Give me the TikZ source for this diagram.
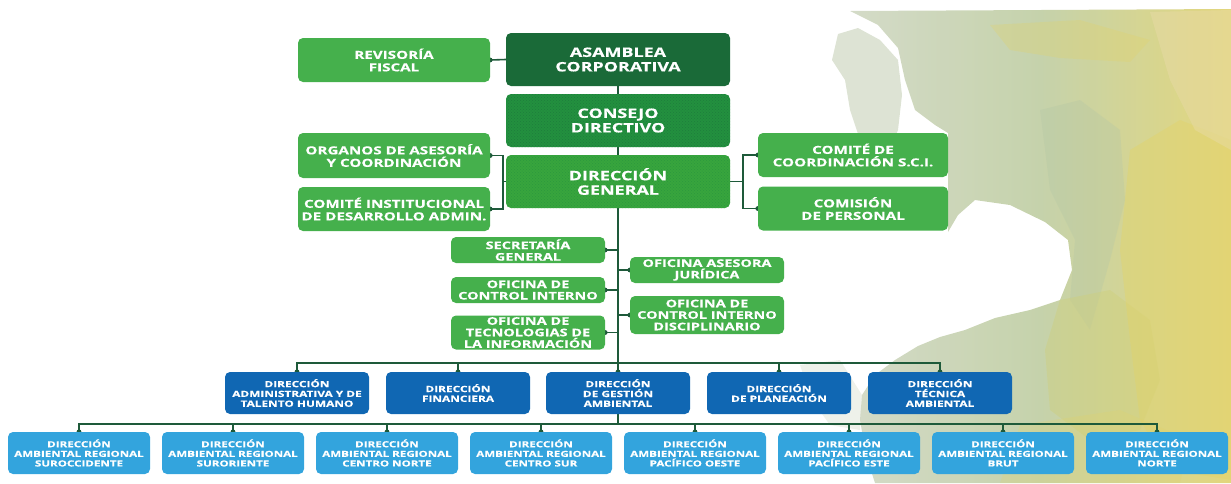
\documentclass[tikz,border=0pt]{standalone}
\usepackage{fontspec}
\newfontfamily\orgfont{Open Sans}[FakeStretch=1.38,FakeBold=0.4]
\usetikzlibrary{patterns,backgrounds}
\pgfdeclarelayer{texture}
\pgfsetlayers{texture,background,main}
\definecolor{dkgreen}{HTML}{1A6A38}
\definecolor{midgreen}{HTML}{23903F}
\definecolor{dggreen}{HTML}{38A53D}
\definecolor{ltgreen}{HTML}{45B04C}
\definecolor{blueA}{HTML}{1067B3}
\definecolor{blueB}{HTML}{33A4DD}
\definecolor{linec}{HTML}{1E5A3A}
\definecolor{txA}{HTML}{CFD7C2}
\definecolor{txB}{HTML}{BFCDA2}
\definecolor{txC}{HTML}{E0D26E}
\definecolor{txG}{HTML}{B5C8A5}
\definecolor{txL}{HTML}{CFCF78}
\definecolor{txY}{HTML}{E2D46A}
\definecolor{txT}{HTML}{E8DBA8}
\tikzset{
  box/.style={rectangle, rounded corners=5pt, align=center, text=white, inner sep=0pt},
  topbox/.style={box, minimum width=224pt, minimum height=53pt,
     font=\orgfont\bfseries\fontsize{13}{14.5}\selectfont},
  sidebox/.style={box, fill=ltgreen, minimum width=192pt, minimum height=44pt,
     font=\orgfont\bfseries\fontsize{11}{12.5}\selectfont},
  offbox/.style={box, fill=ltgreen, minimum width=154pt,
     font=\orgfont\bfseries\fontsize{10.5}{11.5}\selectfont},
  dirbox/.style={box, fill=blueA, minimum width=144pt, minimum height=42pt,
     font=\orgfont\bfseries\fontsize{8.6}{9.8}\selectfont},
  regbox/.style={box, fill=blueB, minimum width=142pt, minimum height=42pt,
     font=\orgfont\bfseries\fontsize{8.4}{9.6}\selectfont},
  conn/.style={draw=linec, line width=1.6pt},
  tab/.style={fill=linec},
}
\begin{document}
\begin{tikzpicture}[x=1pt,y=-1pt]
\useasboundingbox (0,0) rectangle (1231,483);
% ---------- top ----------
\node[topbox, fill=dkgreen] (asamblea) at (618,59.5) {ASAMBLEA\\CORPORATIVA};
\node[topbox, fill=midgreen, postaction={pattern=crosshatch dots, pattern color=dkgreen!50!midgreen}] (consejo) at (618,120.5) {};
\node[topbox, fill=dggreen, postaction={pattern=crosshatch dots, pattern color=midgreen!60!dggreen}] (general) at (618,181.5) {};
\node[topbox] at (consejo) {CONSEJO\\DIRECTIVO};
\node[topbox] at (general) {DIRECCIÓN\\GENERAL};
% ---------- side boxes ----------
\node[sidebox] (revisoria) at (394,60) {REVISORÍA\\FISCAL};
\node[sidebox, minimum height=45pt] (organos) at (394,155.5) {ORGANOS DE ASESORÍA\\Y COORDINACIÓN};
\node[sidebox] (cidesa) at (394,209) {COMITÉ INSTITUCIONAL\\DE DESARROLLO ADMIN.};
\node[sidebox, minimum width=190pt] (sci) at (853,155) {COMITÉ DE\\COORDINACIÓN S.C.I.};
\node[sidebox, minimum width=190pt] (comision) at (853,208.5) {COMISIÓN\\DE PERSONAL};
% ---------- offices ----------
\node[offbox, minimum height=26pt] (sec) at (528,250) {SECRETARÍA\\GENERAL};
\node[offbox, minimum height=26pt] (oci) at (528,290) {OFICINA DE\\CONTROL INTERNO};
\node[offbox, minimum height=34pt] (otic) at (528,332.5) {OFICINA DE\\TECNOLOGIAS DE\\LA INFORMACIÓN};
\node[offbox, minimum height=26pt] (oaj) at (707,270) {OFICINA ASESORA\\JURÍDICA};
\node[offbox, minimum height=38pt] (ocid) at (707,315) {OFICINA DE\\CONTROL INTERNO\\DISCIPLINARIO};
% ---------- direcciones ----------
\node[dirbox] (adm) at (297,393) {DIRECCIÓN\\ADMINISTRATIVA Y DE\\TALENTO HUMANO};
\node[dirbox] (fin) at (458,393) {DIRECCIÓN\\FINANCIERA};
\node[dirbox] (gest) at (618,393) {DIRECCIÓN\\DE GESTIÓN\\AMBIENTAL};
\node[dirbox] (plan) at (779,393) {DIRECCIÓN\\DE PLANEACIÓN};
\node[dirbox] (tec) at (940,393) {DIRECCIÓN\\TÉCNICA\\AMBIENTAL};
% ---------- regionales ----------
\node[regbox] (r1) at (79,453) {DIRECCIÓN\\AMBIENTAL REGIONAL\\SUROCCIDENTE};
\node[regbox] (r2) at (233,453) {DIRECCIÓN\\AMBIENTAL REGIONAL\\SURORIENTE};
\node[regbox] (r3) at (387,453) {DIRECCIÓN\\AMBIENTAL REGIONAL\\CENTRO NORTE};
\node[regbox] (r4) at (541,453) {DIRECCIÓN\\AMBIENTAL REGIONAL\\CENTRO SUR};
\node[regbox] (r5) at (695,453) {DIRECCIÓN\\AMBIENTAL REGIONAL\\PACÍFICO OESTE};
\node[regbox] (r6) at (849,453) {DIRECCIÓN\\AMBIENTAL REGIONAL\\PACÍFICO ESTE};
\node[regbox] (r7) at (1003,453) {DIRECCIÓN\\AMBIENTAL REGIONAL\\BRUT};
\node[regbox] (r8) at (1157,453) {DIRECCIÓN\\AMBIENTAL REGIONAL\\NORTE};
% ---------- helper coordinates ----------
\coordinate (lbr) at (503,0);
\coordinate (rbr) at (743,0);
\coordinate (trk) at (618,0);
\coordinate (busA) at (0,363);
\coordinate (busB) at (0,424);
% ---------- connectors ----------
\begin{pgfonlayer}{background}
\draw[conn] (asamblea.south) -- (consejo.north);
\draw[conn] (consejo.south) -- (general.north);
\draw[conn] (general.south) -- (gest.north);
\draw[conn] (revisoria.east) -- (asamblea.west);
\fill[tab] (revisoria.east) circle (2.4);
\draw[conn] (organos.east) -- (organos.east -| lbr) -- (cidesa.east -| lbr) -- (cidesa.east);
\draw[conn] (general.west) -- (general.west -| lbr);
\fill[tab] (organos.east) circle (2.4);
\fill[tab] (cidesa.east) circle (2.4);
\draw[conn] (sci.west) -- (sci.west -| rbr) -- (comision.west -| rbr) -- (comision.west);
\draw[conn] (general.east) -- (general.east -| rbr);
\fill[tab] (sci.west) circle (2.4);
\fill[tab] (comision.west) circle (2.4);
\foreach \o in {sec,oci,otic}{
  \draw[conn] (\o.east) -- (\o.east -| trk);
  \fill[tab] (\o.east) circle (2.4);
}
\foreach \o in {oaj,ocid}{
  \draw[conn] (\o.west) -- (\o.west -| trk);
  \fill[tab] (\o.west) circle (2.4);
}
\draw[conn] (adm.north) -- (adm.north |- busA) -- (tec.north |- busA) -- (tec.north);
\foreach \d in {adm,fin,gest,plan,tec}{
  \draw[conn] (\d.north) -- (\d.north |- busA);
  \fill[tab] (\d.north) circle (2.4);
}
\draw[conn] (gest.south) -- (gest.south |- busB);
\draw[conn] (r1.north) -- (r1.north |- busB) -- (r8.north |- busB) -- (r8.north);
\foreach \r in {r1,r2,r3,r4,r5,r6,r7,r8}{
  \draw[conn] (\r.north) -- (\r.north |- busB);
  \fill[tab] (\r.north) circle (2.4);
}
\end{pgfonlayer}
% ---------- background texture ----------
\begin{pgfonlayer}{texture}
\shade[left color=txA, right color=txC, middle color=txB, opacity=0.9]
  (850,11) -- (1231,9) -- (1231,483) -- (875,483) -- (866,455) -- (860,420)
  -- (862,395) -- (875,375) -- (895,360) -- (918,346) -- (940,337) -- (965,330)
  -- (995,318) -- (1030,310) -- (1060,300) -- (1072,270) -- (1068,240)
  -- (1045,222) -- (1010,205) -- (975,200) -- (958,215) -- (948,232)
  -- (948,133) -- (935,125) -- (915,110) -- (905,80) -- (898,48) -- (878,25) -- cycle;
% grey mottled islands at upper left
\fill[txA, opacity=0.7] (838,34) -- (858,28) -- (880,40) -- (898,60) -- (902,95)
  -- (898,130) -- (885,160) -- (868,165) -- (860,140) -- (850,110) -- (845,80)
  -- (832,60) -- cycle;
\fill[txA, opacity=0.35] (800,365) -- (840,360) -- (862,395) -- (860,430)
  -- (830,425) -- (812,400) -- cycle;
% greener zone in the middle
\fill[txG, opacity=0.35] (1040,110) -- (1080,100) -- (1120,130) -- (1125,200)
  -- (1110,260) -- (1090,330) -- (1070,300) -- (1075,240) -- (1050,190) -- cycle;
% yellow-green lower zone
\fill[txL, opacity=0.4] (1060,300) -- (1110,290) -- (1150,320) -- (1160,380)
  -- (1140,430) -- (1090,440) -- (1050,410) -- (1045,350) -- cycle;
% yellow washes on the right
\fill[txY, opacity=0.45] (1130,150) -- (1180,120) -- (1231,140) -- (1231,480)
  -- (1170,470) -- (1140,420) -- (1130,340) -- (1120,250) -- cycle;
\fill[txY, opacity=0.25] (1020,425) -- (1120,410) -- (1190,440) -- (1180,483)
  -- (1000,483) -- cycle;
\fill[txT, opacity=0.45] (1150,12) -- (1231,10) -- (1231,150) -- (1195,130)
  -- (1170,80) -- cycle;
\fill[txY, opacity=0.3] (990,25) -- (1080,20) -- (1150,40) -- (1130,62)
  -- (1060,58) -- (1010,50) -- cycle;
\end{pgfonlayer}
\end{tikzpicture}
\end{document}
